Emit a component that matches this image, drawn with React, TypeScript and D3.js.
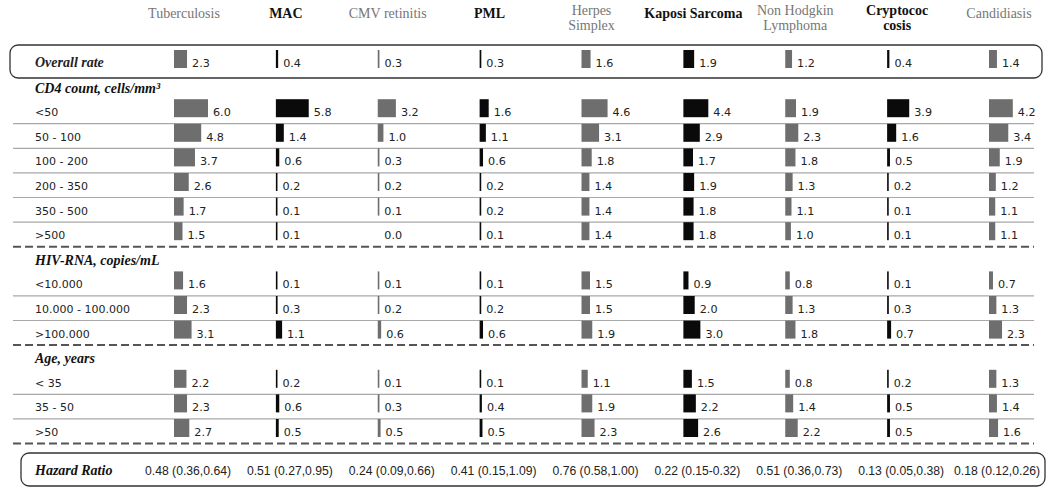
import React from "react";
import * as d3 from "d3";

// ---------- data ----------
const diseases = [
  "Tuberculosis", "MAC", "CMV retinitis", "PML", "Herpes Simplex",
  "Kaposi Sarcoma", "Non Hodgkin Lymphoma", "Cryptococcosis", "Candidiasis",
];
const headerLines = [
  ["Tuberculosis"], ["MAC"], ["CMV retinitis"], ["PML"], ["Herpes", "Simplex"],
  ["Kaposi  Sarcoma"], ["Non Hodgkin", "Lymphoma"], ["Cryptococ", "cosis"], ["Candidiasis"],
];
const darkSeries = [false, true, false, true, false, true, false, true, false];

const overallRate = [2.3, 0.4, 0.3, 0.3, 1.6, 1.9, 1.2, 0.4, 1.4];

const cd4Title = "CD4 count, cells/mm³";
const cd4Labels = ["<50", "50 - 100", "100 - 200", "200 - 350", "350 - 500", ">500"];
const cd4Values = [
  [6.0, 5.8, 3.2, 1.6, 4.6, 4.4, 1.9, 3.9, 4.2],
  [4.8, 1.4, 1.0, 1.1, 3.1, 2.9, 2.3, 1.6, 3.4],
  [3.7, 0.6, 0.3, 0.6, 1.8, 1.7, 1.8, 0.5, 1.9],
  [2.6, 0.2, 0.2, 0.2, 1.4, 1.9, 1.3, 0.2, 1.2],
  [1.7, 0.1, 0.1, 0.2, 1.4, 1.8, 1.1, 0.1, 1.1],
  [1.5, 0.1, 0.0, 0.1, 1.4, 1.8, 1.0, 0.1, 1.1],
];

const hivTitle = "HIV-RNA, copies/mL";
const hivLabels = ["<10.000", "10.000 - 100.000", ">100.000"];
const hivValues = [
  [1.6, 0.1, 0.1, 0.1, 1.5, 0.9, 0.8, 0.1, 0.7],
  [2.3, 0.3, 0.2, 0.2, 1.5, 2.0, 1.3, 0.3, 1.3],
  [3.1, 1.1, 0.6, 0.6, 1.9, 3.0, 1.8, 0.7, 2.3],
];

const ageTitle = "Age, years";
const ageLabels = ["< 35", "35 - 50", ">50"];
const ageValues = [
  [2.2, 0.2, 0.1, 0.1, 1.1, 1.5, 0.8, 0.2, 1.3],
  [2.3, 0.6, 0.3, 0.4, 1.9, 2.2, 1.4, 0.5, 1.4],
  [2.7, 0.5, 0.5, 0.5, 2.3, 2.6, 2.2, 0.5, 1.6],
];

const hazardRatios = [
  "0.48 (0.36,0.64)", "0.51 (0.27,0.95)", "0.24 (0.09,0.66)", "0.41 (0.15,1.09)",
  "0.76 (0.58,1.00)", "0.22 (0.15-0.32)", "0.51 (0.36,0.73)", "0.13 (0.05,0.38)",
  "0.18 (0.12,0.26)",
];

// ---------- layout ----------
const W = 1050;
const H = 494;
const SERIF = "'Liberation Serif', 'Times New Roman', serif";
const SANS = "'DejaVu Sans', Verdana, sans-serif";
const NARROW = "'Liberation Sans', Arial, sans-serif";
const GREY_BAR = "#6e6e6e";
const DARK_BAR = "#0a0a0a";

type Row = { label: string; values: number[] };
type Slot = { kind: "overall" | "title" | "row"; label: string; values?: number[]; last?: boolean };

export default function App() {
  const groups = [
    { title: cd4Title, rows: cd4Labels.map((l, i) => ({ label: l, values: cd4Values[i] })) },
    { title: hivTitle, rows: hivLabels.map((l, i) => ({ label: l, values: hivValues[i] })) },
    { title: ageTitle, rows: ageLabels.map((l, i) => ({ label: l, values: ageValues[i] })) },
  ];

  const slots: Slot[] = [{ kind: "overall", label: "Overall rate", values: overallRate }];
  groups.forEach((g) => {
    slots.push({ kind: "title", label: g.title });
    g.rows.forEach((r: Row, ri) =>
      slots.push({ kind: "row", label: r.label, values: r.values, last: ri === g.rows.length - 1 })
    );
  });

  const y = d3.scaleLinear().domain([0, slots.length - 1]).range([57, 426]);
  const x = d3.scalePoint<string>().domain(diseases).range([174, 989]);
  const w = d3.scaleLinear().domain([0, 6]).range([0, 34]);
  const barW = (v: number) => (v <= 0 ? 0 : Math.max(w(v), 1.6));

  const lineX0 = 13;
  const lineX1 = 1034;
  const hrBox = { x: 21, y: 453, w: 1024, h: 33 };
  const hrLen = 86;

  const barCells = (values: number[], yc: number, key: string) =>
    values.map((v, i) => {
      const bx = x(diseases[i])!;
      const bw = barW(v);
      return (
        <g key={key + i}>
          {bw > 0 && (
            <rect x={bx} y={yc - 8} width={bw} height={18} fill={darkSeries[i] ? DARK_BAR : GREY_BAR} />
          )}
          <text x={bx + Math.max(bw, 1.6) + 5} y={yc + 9} fontFamily={SANS} fontSize={11.2} fill="#222">
            {d3.format(".1f")(v)}
          </text>
        </g>
      );
    });

  return (
    <svg width={W} height={H} style={{ position: "absolute", left: 0, top: 0, background: "#fff" }}>
      {/* headers */}
      {headerLines.map((lines, i) => {
        const cx = x(diseases[i])! + 10;
        const dark = darkSeries[i];
        return (
          <text
            key={"h" + i}
            textAnchor="middle"
            fontFamily={SERIF}
            fontSize={14}
            fontWeight={dark ? "bold" : "normal"}
            fill={dark ? "#111" : "#767676"}
          >
            {lines.length === 1 ? (
              <tspan x={cx} y={18}>{lines[0]}</tspan>
            ) : (
              lines.map((t, k) => (
                <tspan key={k} x={cx} y={15 + k * 15}>{t}</tspan>
              ))
            )}
          </text>
        );
      })}

      {/* overall box */}
      <rect x={10} y={45} width={1032} height={33} rx={8} ry={8} fill="none" stroke="#333" strokeWidth={1.3} />

      {slots.map((s, si) => {
        const yc = y(si);
        if (s.kind === "title") {
          return (
            <text key={"s" + si} x={35} y={yc + 11} fontFamily={SERIF} fontStyle="italic" fontWeight="bold" fontSize={14} fill="#111">
              {s.label}
            </text>
          );
        }
        return (
          <g key={"s" + si}>
            {s.kind === "row" && (
              <line
                x1={lineX0}
                x2={lineX1}
                y1={yc + 17.5}
                y2={yc + 17.5}
                stroke={s.last ? "#555" : "#a8a8a8"}
                strokeWidth={s.last ? 2 : 1.2}
                strokeDasharray={s.last ? "8,4" : undefined}
              />
            )}
            <text
              x={35}
              y={yc + 10}
              fontFamily={s.kind === "overall" ? SERIF : SANS}
              fontStyle={s.kind === "overall" ? "italic" : "normal"}
              fontWeight={s.kind === "overall" ? "bold" : "normal"}
              fontSize={s.kind === "overall" ? 14 : 11}
              fill="#222"
            >
              {s.label}
            </text>
            {barCells(s.values!, yc + 1, "b" + si + "-")}
          </g>
        );
      })}

      {/* hazard ratio box */}
      <rect x={hrBox.x} y={hrBox.y} width={hrBox.w} height={hrBox.h} rx={8} ry={8} fill="none" stroke="#333" strokeWidth={1.3} />
      <text x={35} y={475} fontFamily={SERIF} fontStyle="italic" fontWeight="bold" fontSize={14} fill="#111">
        Hazard Ratio
      </text>
      {hazardRatios.map((t, i) => (
        <text
          key={"hr" + i}
          x={Math.min(x(diseases[i])! + 14, hrBox.x + hrBox.w - 5 - hrLen / 2)}
          y={475}
          textAnchor="middle"
          fontFamily={NARROW}
          fontSize={13}
          textLength={hrLen}
          lengthAdjust="spacingAndGlyphs"
          fill="#222"
        >
          {t}
        </text>
      ))}
    </svg>
  );
}
